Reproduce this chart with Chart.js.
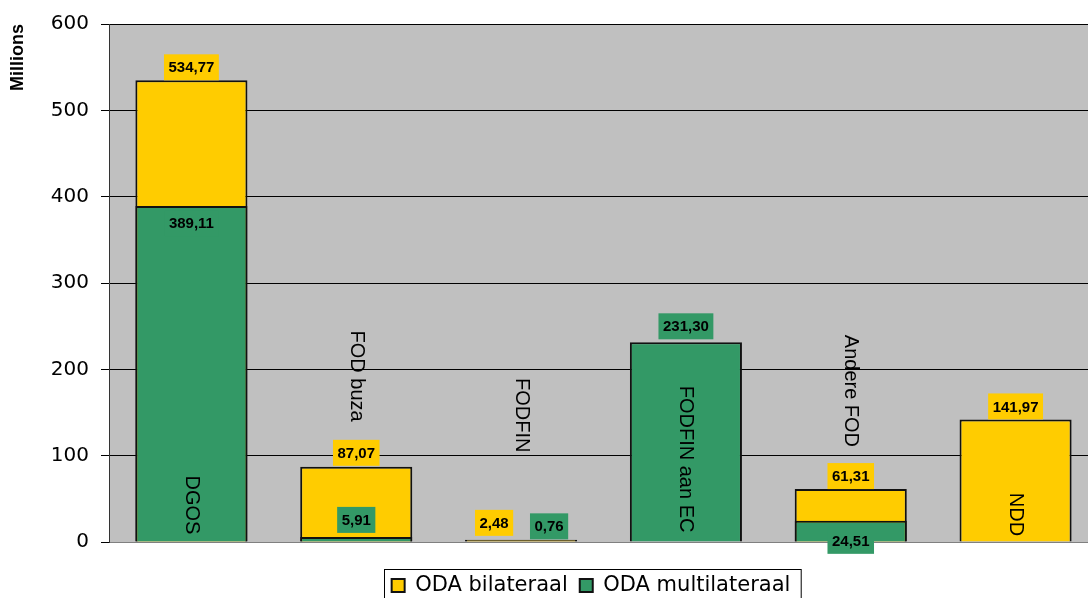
<!DOCTYPE html>
<html>
<head>
<meta charset="utf-8">
<script src="https://cdn.jsdelivr.net/npm/chart.js@4"></script>
<style>
  html, body { margin: 0; padding: 0; background: #fff; overflow: hidden; }
  #wrap { width: 1098px; height: 598px; }
</style>
</head>
<body>
<div id="wrap"><canvas id="odaChart"></canvas></div>
<script>
const categories = ['DGOS', 'FOD buza', 'FODFIN', 'FODFIN aan EC', 'Andere FOD', 'NDD'];
const bilateraal = [534.77, 87.07, 2.48, null, 61.31, 141.97];
const multilateraal = [389.11, 5.91, 0.76, 231.30, 24.51, null];
const yTicks = [0, 100, 200, 300, 400, 500, 600];
// axis value where each rotated category name begins
const nameTop = [77, 245, 190, 181, 240, 57];

// pixel nudges for the value labels (relative to bar top)
const bilatShift = [[0, -13], [0, -14], [-27, -17], null, [0, -13], [0, -13]];
const multiShift = [[0, 17], [0, -17], [28, -15], [0, -16], [0, 20], null];

const FONT = 'Liberation Sans, Arial, sans-serif';
const WIDE = 'DejaVu Sans, sans-serif';
const YELLOW = '#FFCC00';
const GREEN = '#339966';

const plotBackground = {
    id: 'plotBackground',
    beforeDraw(chart) {
        const a = chart.chartArea;
        const ctx = chart.ctx;
        ctx.save();
        ctx.fillStyle = '#C0C0C0';
        ctx.fillRect(a.left, a.top, a.right - a.left, a.bottom - a.top);
        ctx.restore();
    }
};

const valueLabels = {
    id: 'valueLabels',
    afterDatasetsDraw(chart) {
        const ctx = chart.ctx;
        ctx.save();
        ctx.font = 'bold 15px ' + FONT;
        ctx.textAlign = 'center';
        ctx.textBaseline = 'middle';
        chart.data.datasets.forEach((ds, di) => {
            const meta = chart.getDatasetMeta(di);
            const shifts = ds.label === 'ODA bilateraal' ? bilatShift : multiShift;
            meta.data.forEach((bar, i) => {
                const v = ds.data[i];
                if (v == null || !shifts[i]) return;
                const txt = v.toFixed(2).replace('.', ',');
                const x = bar.x + shifts[i][0];
                const y = bar.y + shifts[i][1];
                const w = ctx.measureText(txt).width + 9;
                ctx.fillStyle = ds.backgroundColor;
                ctx.fillRect(x - w / 2, y - 13, w, 26);
                ctx.fillStyle = '#000';
                ctx.fillText(txt, x, y + 1);
            });
        });

        // category names, rotated and reading downwards
        const yScale = chart.scales.y;
        const xScale = chart.scales.x;
        ctx.font = '20px ' + FONT;
        ctx.textAlign = 'left';
        categories.forEach((name, i) => {
            const x = xScale.getPixelForValue(i);
            const y = yScale.getPixelForValue(nameTop[i]);
            ctx.save();
            ctx.translate(x, y);
            ctx.rotate(Math.PI / 2);
            ctx.fillText(name, 0, 0);
            ctx.restore();
        });
        ctx.restore();
    }
};

const legendFrame = {
    id: 'legendFrame',
    afterLayout(chart) {
        const lg = chart.legend;
        lg.left += 42; lg.right += 42;
        lg.top += 21; lg.bottom += 21;
    },
    afterDraw(chart) {
        const boxes = chart.legend.legendHitBoxes;
        if (!boxes || !boxes.length) return;
        const left = Math.min(...boxes.map(b => b.left)) - 8;
        const right = Math.max(...boxes.map(b => b.left + b.width)) + 10;
        const top = boxes[0].top - 6;
        const ctx = chart.ctx;
        ctx.save();
        ctx.strokeStyle = '#000';
        ctx.lineWidth = 1;
        ctx.strokeRect(Math.round(left) + 0.5, Math.round(top) + 0.5, right - left, chart.height - top + 5);
        ctx.restore();
    }
};

const ctx = document.getElementById('odaChart').getContext('2d');
const chart = new Chart(ctx, {
    type: 'bar',
    data: {
        labels: categories,
        datasets: [{
            label: 'ODA multilateraal',
            data: multilateraal,
            backgroundColor: GREEN,
            borderColor: '#111',
            borderWidth: 2
        }, {
            label: 'ODA bilateraal',
            data: bilateraal,
            backgroundColor: YELLOW,
            borderColor: '#111',
            borderWidth: 2
        }]
    },
    options: {
        responsive: true,
        maintainAspectRatio: false,
        animation: false,
        barPercentage: 0.68,
        categoryPercentage: 1,
        layout: { padding: { top: 23, right: 0, bottom: 13, left: 0 } },
        scales: {
            x: {
                display: false,
                stacked: true
            },
            y: {
                min: 0,
                max: 600,
                afterBuildTicks(s) { s.ticks = yTicks.map(v => ({ value: v })); },
                afterFit(s) { s.width = 109; },
                ticks: { color: '#000', padding: 12, font: { size: 20, family: WIDE } },
                grid: {
                    color: c => (c.tick && c.tick.value === 0 ? '#808080' : '#000'),
                    tickColor: '#000',
                    tickLength: 8,
                    lineWidth: 1
                },
                border: { color: '#333' },
                title: {
                    display: true,
                    text: 'Millions',
                    align: 'end',
                    color: '#000',
                    padding: { top: 7, bottom: 0 },
                    font: { size: 18, weight: 'bold', family: FONT }
                }
            }
        },
        plugins: {
            legend: {
                position: 'bottom',
                reverse: true,
                labels: {
                    boxWidth: 13,
                    boxHeight: 13,
                    padding: 12,
                    color: '#000',
                    font: { size: 21, family: WIDE }
                }
            },
            tooltip: { enabled: false }
        }
    },
    plugins: [plotBackground, valueLabels, legendFrame]
});
</script>
</body>
</html>
